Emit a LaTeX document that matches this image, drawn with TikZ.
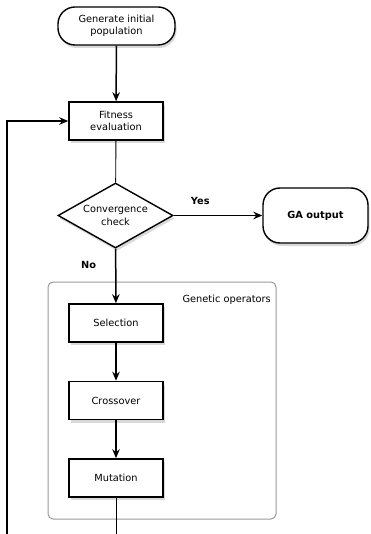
\documentclass[tikz,border=0pt]{standalone}
\usepackage{fontspec}
\setmainfont{DejaVu Sans}
\usetikzlibrary{shapes.geometric,shadows,arrows.meta}
\begin{document}
\begin{tikzpicture}[x=1pt,y=-1pt,
  font=\fontsize{9.8}{12.3}\selectfont,
  shad/.style={drop shadow={opacity=0.3,shadow xshift=1.5pt,shadow yshift=-3pt}},
  procbox/.style={draw,line width=1.6pt,fill=white,shad,minimum width=94pt,minimum height=38pt,inner sep=0pt,align=center},
  termbox/.style={draw,line width=1.4pt,fill=white,shad,rounded corners=17pt,inner sep=0pt,align=center},
  decbox/.style={draw,line width=1.4pt,fill=white,shad,diamond,aspect=1.77,inner sep=0pt,minimum width=115pt,minimum height=65pt,align=center},
  arr/.style={line width=1.5pt,-{Stealth[length=9pt,width=7.5pt,inset=3pt]}},
  thinline/.style={line width=0.9pt},
  lbl/.style={font=\fontsize{9.8}{12.3}\selectfont\bfseries,inner sep=0pt}
]
\useasboundingbox (0,0) rectangle (370,534);
% group container
\node[draw=black!40,line width=1pt,rounded corners=5pt,minimum width=228pt,minimum height=237pt,inner sep=0pt] (grp) at (162,400.5) {};
\node[inner sep=0pt,anchor=east] (grplbl) at (271,300) {Genetic operators};

\node[termbox,minimum width=117pt,minimum height=38pt] (init) at (116.5,26) {Generate initial\\population};
\node[procbox] (fit) at (116,121) {Fitness\\evaluation};
\node[decbox] (conv) at (115.5,215.5) {Convergence\\check};
\node[termbox,minimum width=105pt,minimum height=55pt,font=\fontsize{9.8}{12.3}\selectfont\bfseries] (out) at (315.5,215.5) {GA output};
\node[procbox] (sel) at (116,323) {Selection};
\node[procbox] (cross) at (116,400.5) {Crossover};
\node[procbox] (mut) at (116,478) {Mutation};

\coordinate (bot) at (116,534);
\coordinate (botL) at (7,534);
\coordinate (topL) at (7,121);

\draw[arr] (init) -- (fit);
\draw[thinline] (fit) -- (conv);
\draw[arr] (conv) -- node[lbl,pos=0.3,above=10pt] (yes) {Yes} (out);
\draw[arr] (conv) -- node[lbl,pos=0.3,left=19pt] (no) {No} (sel);
\draw[arr] (sel) -- (cross);
\draw[arr] (cross) -- (mut);
\draw[thinline] (mut) -- (bot);
\draw[arr] (botL) -- (topL) -- (fit);
\end{tikzpicture}
\end{document}
